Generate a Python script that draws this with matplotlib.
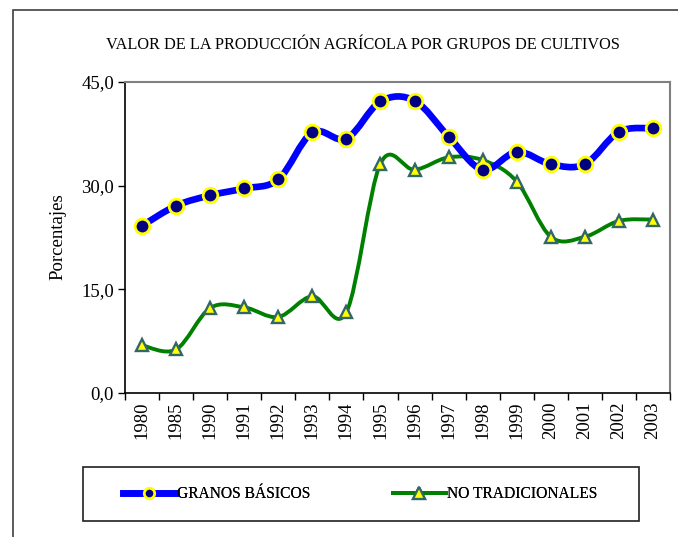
import numpy as np
import matplotlib
matplotlib.use("Agg")
import matplotlib.pyplot as plt
from matplotlib.path import Path
from matplotlib.patches import PathPatch, Rectangle
from matplotlib.lines import Line2D

plt.rcParams["font.family"] = ["Liberation Serif", "DejaVu Serif"]

years = ["1980", "1985", "1990", "1991", "1992", "1993", "1994", "1995",
         "1996", "1997", "1998", "1999", "2000", "2001", "2002", "2003"]
granos = [24.2, 27.1, 28.6, 29.6, 30.9, 37.7, 36.8, 42.2,
          42.3, 37.1, 32.3, 34.9, 33.1, 33.1, 37.8, 38.3]
no_trad = [6.9, 6.3, 12.3, 12.4, 11.0, 14.0, 11.7, 33.2,
           32.3, 34.1, 33.7, 30.6, 22.6, 22.6, 24.9, 25.1]
title = "VALOR DE LA PRODUCCIÓN AGRÍCOLA POR GRUPOS DE CULTIVOS"


def smooth_path(x, y):
    # excel-like smoothed line: bezier segments, catmull-rom control points
    p = np.column_stack([x, y]).astype(float)
    verts = [p[0]]
    codes = [Path.MOVETO]
    n = len(p)
    for i in range(n - 1):
        p0 = p[i - 1] if i > 0 else p[i]
        p3 = p[i + 2] if i + 2 < n else p[i + 1]
        c1 = p[i] + (p[i + 1] - p0) / 6
        c2 = p[i + 1] - (p3 - p[i]) / 6
        verts += [c1, c2, p[i + 1]]
        codes += [Path.CURVE4] * 3
    return Path(verts, codes)


fig = plt.figure(figsize=(6.78, 5.37), dpi=100)
ax = fig.add_axes([125/678, 1 - 393/537, 545/678, 311/537])

x = np.arange(len(years))
ax.add_patch(PathPatch(smooth_path(x, granos), fill=False, edgecolor="#0000ff",
                       lw=4.8, capstyle="round", joinstyle="round", zorder=3))
ax.plot(x, granos, ls="none", marker="o", ms=10.5, mfc="#000080", mec="#ffff00",
        mew=2, zorder=5)
ax.add_patch(PathPatch(smooth_path(x, no_trad), fill=False, edgecolor="#008000",
                       lw=2.8, capstyle="round", joinstyle="round", zorder=2))
ax.plot(x, no_trad, ls="none", marker="^", ms=9, mfc="#ffff00", mec="#336666",
        mew=1.7, zorder=4)

ax.set_xlim(-0.5, len(years) - 0.5)
ax.set_ylim(0, 45)
ax.set_yticks([0, 15, 30, 45])
ax.set_yticklabels(["0,0", "15,0", "30,0", "45,0"], fontsize=13.5)
ax.set_xticks(np.arange(-0.5, len(years)), minor=False)
ax.set_xticklabels([])
ax.set_xticks(x, minor=True)
ax.set_xticklabels(years, minor=True, rotation=90, fontsize=13.5)
ax.tick_params(axis="x", which="major", direction="out", length=5, width=1)
ax.tick_params(axis="x", which="minor", length=0, pad=6)
ax.tick_params(axis="y", direction="out", length=5, width=1, pad=3)
for s in ["top", "right"]:
    ax.spines[s].set_color("#808080")
    ax.spines[s].set_linewidth(1.5)
for s in ["left", "bottom"]:
    ax.spines[s].set_color("black")
    ax.spines[s].set_linewidth(1.2)

fig.text(58/678, 1 - 237/537, "Porcentajes", rotation=90, fontsize=13.5,
         ha="center", va="center")
fig.text(363/678, 1 - 45/537, title, fontsize=11.7, ha="center", va="center")

# outer chart frame (cut off at right and bottom)
fig.patches.append(Rectangle((13/678, -0.1), 2, 1.1 - 10/537, transform=fig.transFigure,
                             fill=False, edgecolor="#404040", lw=1.2))
# legend box
fig.patches.append(Rectangle((83/678, 1 - 521/537), 556/678, 54/537,
                             transform=fig.transFigure, fill=False,
                             edgecolor="#202020", lw=1.2))

h1 = Line2D([], [], color="#0000ff", lw=4.8, marker="o", ms=7.5, mfc="#000080",
            mec="#ffff00", mew=2)
h2 = Line2D([], [], color="#008000", lw=2.8, marker="^", ms=8, mfc="#ffff00",
            mec="#336666", mew=1.6)
ly = 1 - 494/537
for h, lab, lx in [(h1, "GRANOS BÁSICOS", 123), (h2, "NO TRADICIONALES", 393)]:
    lg = fig.legend([h], [lab], loc="center left", bbox_to_anchor=(lx/678, ly),
                    fontsize=11.2, handlelength=3.4, handletextpad=0.05,
                    borderpad=0, borderaxespad=0, frameon=False)
    fig.add_artist(lg)

fig.savefig("out.png", dpi=100)
